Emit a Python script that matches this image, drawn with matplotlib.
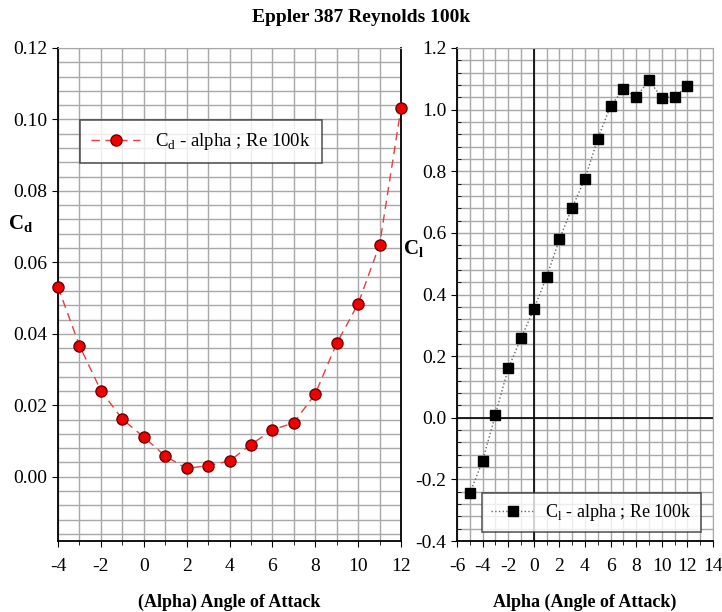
import matplotlib.pyplot as plt
from matplotlib.ticker import MultipleLocator

plt.rcParams['font.family'] = ['Liberation Serif', 'DejaVu Serif']
plt.rcParams['axes.unicode_minus'] = False

# drag data
alpha_cd = [-4, -3, -2, -1, 0, 1, 2, 3, 4, 5, 6, 7, 8, 9, 10, 11, 12]
cd = [0.0531, 0.0367, 0.0241, 0.0161, 0.0111, 0.0058, 0.0023, 0.0031, 0.0044,
      0.0090, 0.0131, 0.0151, 0.0232, 0.0373, 0.0484, 0.0649, 0.1032]

# lift data
alpha_cl = [-5, -4, -3, -2, -1, 0, 1, 2, 3, 4, 5, 6, 7, 8, 9, 10, 11, 12]
cl = [-0.245, -0.14, 0.01, 0.16, 0.258, 0.352, 0.457, 0.579, 0.682, 0.776,
      0.906, 1.012, 1.066, 1.041, 1.095, 1.039, 1.041, 1.077]

fig = plt.figure(figsize=(7.22, 6.12), dpi=100)
ax1 = fig.add_axes([58/722, 71/612, 343/722, 493/612])
ax2 = fig.add_axes([457/722, 71/612, 256/722, 493/612])

gridc = "#a8a8a8"

# left: Cd
ax1.plot(alpha_cd, cd, color="#e04040", linestyle=(0, (6, 4)), linewidth=1,
         marker="o", markersize=8, markerfacecolor="#ee0000",
         markeredgecolor="#700000", markeredgewidth=1, clip_on=False,
         zorder=5, label=r"C$_\mathregular{d}$ - alpha ; Re 100k")
ax1.set_xlim(-4, 12)
ax1.set_ylim(-0.018, 0.12)
ax1.xaxis.set_major_locator(MultipleLocator(2))
ax1.xaxis.set_minor_locator(MultipleLocator(1))
ax1.yaxis.set_minor_locator(MultipleLocator(0.004))
ax1.set_yticks([0.0, 0.02, 0.04, 0.06, 0.08, 0.10, 0.12])
ax1.set_yticklabels(["0.00", "0.02", "0.04", "0.06", "0.08", "0.10", "0.12"])
ax1.set_ylabel(r"C$_\mathregular{d}$", fontsize=15, fontweight="bold",
               rotation=0, labelpad=6)
ax1.yaxis.set_label_coords(-0.11, 0.62)
ax1.set_xlabel("(Alpha) Angle of Attack", fontsize=13, fontweight="bold",
               labelpad=14)
leg1 = ax1.legend(loc="upper left", bbox_to_anchor=(0.064, 0.854),
                  fontsize=13.5, frameon=True, fancybox=False, borderpad=0.6,
                  handlelength=2.6, edgecolor="#333333", borderaxespad=0)
leg1.get_frame().set_linewidth(1.2)

# right: Cl
ax2.plot(alpha_cl, cl, color="#666666", linestyle=":", linewidth=1,
         marker="s", markersize=7, markerfacecolor="black",
         markeredgecolor="black",
         label=r"C$_\mathregular{l}$ - alpha ; Re 100k")
ax2.axhline(0, color="black", linewidth=1.2, zorder=1)
ax2.axvline(0, color="black", linewidth=1.2, zorder=1)
ax2.set_xlim(-6, 14)
ax2.set_ylim(-0.4, 1.2)
ax2.xaxis.set_major_locator(MultipleLocator(2))
ax2.xaxis.set_minor_locator(MultipleLocator(1))
ax2.yaxis.set_major_locator(MultipleLocator(0.2))
ax2.yaxis.set_minor_locator(MultipleLocator(0.04))
ax2.yaxis.set_major_formatter(plt.FormatStrFormatter("%.1f"))
ax2.set_ylabel(r"C$_\mathregular{l}$", fontsize=15, fontweight="bold",
               rotation=0, labelpad=6)
ax2.yaxis.set_label_coords(-0.17, 0.57)
ax2.set_xlabel("Alpha (Angle of Attack)", fontsize=13, fontweight="bold",
               labelpad=14)
leg2 = ax2.legend(loc="lower left", bbox_to_anchor=(0.098, 0.018),
                  fontsize=13, frameon=True, fancybox=False, borderpad=0.5,
                  handlelength=2.4, handletextpad=0.6,
                  edgecolor="#333333", borderaxespad=0)
leg2.get_frame().set_linewidth(1.2)

for ax in (ax1, ax2):
    ax.grid(which="both", color=gridc, linewidth=1)
    ax.set_axisbelow(True)
    ax.tick_params(which="major", direction="out", length=4, labelsize=14,
                   color="black")
    ax.tick_params(which="minor", direction="out", length=3, color="black")
    ax.tick_params(axis="x", pad=8)
    ax.spines["left"].set_linewidth(1.3)
    ax.spines["bottom"].set_linewidth(1.3)
    ax.spines["top"].set_color(gridc)
    ax.spines["right"].set_color(gridc)

ax1.tick_params(axis="y", which="minor", length=0)
ax2.tick_params(axis="y", which="minor", direction="in", length=3)

ax1.spines["right"].set_color("black")
ax1.spines["right"].set_linewidth(1.3)

fig.suptitle("Eppler 387 Reynolds 100k", fontsize=14, fontweight="bold",
             y=0.985)

fig.savefig("out.png", dpi=100)
